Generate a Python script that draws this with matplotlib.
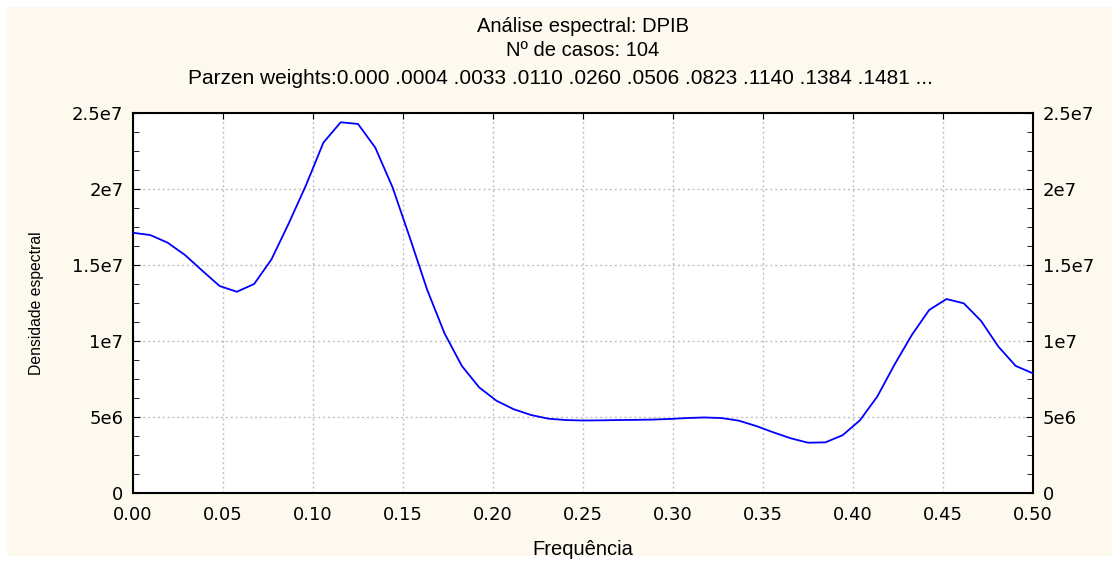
import matplotlib
matplotlib.use('Agg')
import matplotlib.pyplot as plt
from matplotlib.patches import Rectangle
from matplotlib.ticker import FixedLocator, FixedFormatter
import numpy as np

# spectral density at frequencies k/104, k = 0..52
n_cases = 104
density = [1.712e7, 1.697e7, 1.647e7, 1.566e7, 1.463e7, 1.362e7, 1.324e7, 1.375e7,
           1.537e7, 1.774e7, 2.026e7, 2.305e7, 2.439e7, 2.428e7, 2.272e7, 2.010e7,
           1.678e7, 1.336e7, 1.050e7, 8.36e6, 6.95e6, 6.07e6, 5.51e6, 5.13e6,
           4.89e6, 4.80e6, 4.77e6, 4.78e6, 4.80e6, 4.81e6, 4.83e6, 4.87e6,
           4.93e6, 4.97e6, 4.93e6, 4.76e6, 4.41e6, 3.99e6, 3.60e6, 3.31e6,
           3.33e6, 3.80e6, 4.78e6, 6.34e6, 8.45e6, 1.040e7, 1.204e7, 1.276e7,
           1.248e7, 1.132e7, 9.63e6, 8.36e6, 7.87e6]
freq = np.arange(len(density)) / n_cases

x_ticks = [0.0, 0.05, 0.10, 0.15, 0.20, 0.25, 0.30, 0.35, 0.40, 0.45, 0.50]
x_labels = ['0.00', '0.05', '0.10', '0.15', '0.20', '0.25', '0.30', '0.35', '0.40', '0.45', '0.50']
y_ticks = [0, 5e6, 1e7, 1.5e7, 2e7, 2.5e7]
y_labels = ['0', '5e6', '1e7', '1.5e7', '2e7', '2.5e7']

title1 = 'Análise espectral: DPIB'
title2 = 'Nº de casos: 104'
title3 = 'Parzen weights:0.000 .0004 .0033 .0110 .0260 .0506 .0823 .1140 .1384 .1481 ...'

W, H = 1119, 561
fig = plt.figure(figsize=(W / 100, H / 100), dpi=100, facecolor='white')
fig.patches.append(Rectangle((7 / W, 5 / H), 1 - 14 / W, 1 - 12 / H, transform=fig.transFigure,
                             facecolor='#fdf9ee', edgecolor='none', zorder=-10))

ax = fig.add_axes([133 / W, (H - 493) / H, 900 / W, 380 / H])
ax.set_facecolor('white')
ax.plot(freq, density, color='#0000ff', lw=1.3, zorder=3)
ax.set_xlim(0, 0.5)
ax.set_ylim(0, 2.5e7)

ax.xaxis.set_major_locator(FixedLocator(x_ticks))
ax.xaxis.set_major_formatter(FixedFormatter(x_labels))
ax.yaxis.set_major_locator(FixedLocator(y_ticks))
ax.yaxis.set_major_formatter(FixedFormatter(y_labels))
ax.yaxis.set_minor_locator(FixedLocator(np.arange(0, 2.5e7, 1.25e6)))
for lab in ax.get_xticklabels() + ax.get_yticklabels():
    lab.set_fontfamily('DejaVu Sans')
ax.tick_params(axis='x', which='major', direction='in', length=4, top=True, bottom=False,
               pad=9, labelsize=13)
ax.tick_params(axis='y', which='both', direction='in', left=True, right=True,
               labelleft=True, labelright=True, labelsize=13, pad=7)
ax.tick_params(axis='y', which='major', length=5)
ax.tick_params(axis='y', which='minor', length=4)

ax.grid(True, which='major', color='#c0c0c0', linestyle=(0, (1.5, 2)), lw=1)
for s in ax.spines.values():
    s.set_color('black')
    s.set_linewidth(1.5)

ax.set_xlabel('Frequência', fontfamily='Liberation Sans', fontsize=14.5, labelpad=12)
ax.set_ylabel('Densidade espectral', fontfamily='Liberation Sans', fontsize=11.3, labelpad=20)

cx = (133 + 450) / W
fig.text(cx, 1 - 27 / H, title1, ha='center', va='center', fontfamily='Liberation Sans', fontsize=14.5)
fig.text(cx, 1 - 51 / H, title2, ha='center', va='center', fontfamily='Liberation Sans', fontsize=14.5)
fig.text(188 / W, 1 - 79 / H, title3, ha='left', va='center', fontfamily='Liberation Sans', fontsize=15)

fig.savefig('out.png', dpi=100, facecolor=fig.get_facecolor())
